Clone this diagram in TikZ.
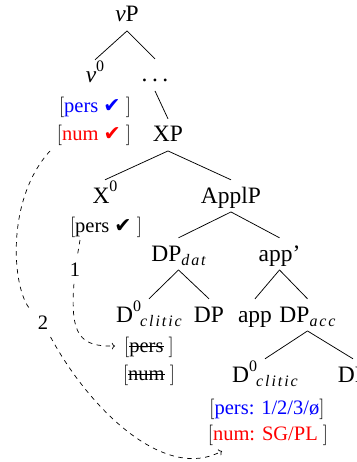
\documentclass[tikz,border=0pt]{standalone}
\usepackage{fontspec}
\setmainfont{Liberation Serif}
\newfontfamily\symf{DejaVu Sans}
\newfontfamily\brkf{Latin Modern Roman}
\usepackage{xcolor}
\usetikzlibrary{arrows.meta}
\newcommand\tfs{\fontsize{23.5}{27}\selectfont}
\newcommand\ffs{\fontsize{20.5}{24}\selectfont}
\newcommand\supx[1]{\raisebox{11pt}{\fontsize{16}{18}\selectfont #1}}
\newcommand\subx[1]{\raisebox{-4.5pt}{\fontsize{16}{18}\selectfont\itshape\addfontfeature{LetterSpace=12}#1}}
\newcommand\lbr{{\brkf[}}
\newcommand\rbr{{\brkf]}}
\newcommand\chk{{\symf ✔}}
\newsavebox\strbox
\newcommand\strk[1]{\sbox\strbox{#1}\rlap{\rule[0.24em]{\wd\strbox}{0.7pt}}\usebox\strbox}
\definecolor{fblue}{RGB}{0,0,255}
\definecolor{fred}{RGB}{255,0,0}
\begin{document}
\begin{tikzpicture}[x=1pt,y=-1pt,
 tn/.style={font=\tfs, anchor=base, inner sep=3pt, text height=20pt, text depth=5.75pt},
 ft/.style={font=\ffs, anchor=base, inner sep=1pt},
 br/.style={line width=0.75pt},
 mv/.style={dash pattern=on 4.5pt off 4.5pt, line width=0.7pt},
 lab/.style={font=\ffs, inner sep=7pt}]
\useasboundingbox (0,0) rectangle (356,462);
\clip (0,0) rectangle (356,462);
% tree nodes
\node[tn] (vP) at (127,22) {\textit{v}P};
\node[tn] (v0) at (95,83) {\textit{v}\supx{0}};
\node[tn] (dots) at (155,82) {.\hspace{4.5pt}.\hspace{4.5pt}.};
\node[tn] (XP) at (168,142) {XP};
\node[tn] (X0) at (105,203) {X\supx{0}};
\node[tn] (ApplP) at (231,203) {ApplP};
\node[tn] (DPdat) at (178.5,261) {DP\subx{dat}};
\node[tn] (appb) at (279.5,261) {app'};
\node[tn] (D0a) at (149,322) {D\supx{0}\kern-1pt\subx{clitic}};
\node[tn] (DPm) at (209,322) {DP};
\node[tn] (app) at (255,322) {app};
\node[tn] (DPacc) at (307.5,322) {DP\subx{acc}};
\node[tn] (D0b) at (265,382) {D\supx{0}\kern-1pt\subx{clitic}};
\node[tn] (DPr) at (353,382) {DP};
% features
\node[ft] (fv1) at (95,113) {\lbr{\color{fblue}pers \chk}\ \rbr};
\node[ft] (fv2) at (94,141) {\lbr{\color{fred}num \chk}\ \rbr};
\node[ft] (fx) at (106,232) {\lbr pers \chk\ \rbr};
\node[ft] (fs1) at (149,352) {\lbr\strk{pers}\ \rbr};
\node[ft] (fs2) at (149,380) {\lbr\strk{num}\ \rbr};
\node[ft] (fr1) at (267,414) {\lbr{\color{fblue}pers: 1/2/3/ø}\rbr};
\node[ft] (fr2) at (268,440) {\lbr{\color{fred}num: SG/PL}\ \rbr};
% branches
\draw[br] (vP.south) -- (v0.north);
\draw[br] (vP.south) -- (dots.north);
\draw[br] (dots.south) -- (XP.north);
\draw[br] (XP.south) -- (X0.north);
\draw[br] (XP.south) -- (ApplP.north);
\draw[br] (ApplP.south) -- (DPdat.north);
\draw[br] (ApplP.south) -- (appb.north);
\draw[br] (DPdat.south) -- (D0a.north);
\draw[br] (DPdat.south) -- (DPm.north);
\draw[br] (appb.south) -- (app.north);
\draw[br] (appb.south) -- (DPacc.north);
\draw[br] (DPacc.south) -- (D0b.north);
\draw[br] (DPacc.south) -- (DPr.north);
% movement arrows
\coordinate (c1) at (80,240);
\coordinate (a1) at (115,346);
\node[lab] (l1) at (75,270) {1};
\draw[mv] (c1) -- (l1);
\draw[mv,->] (l1) .. controls (70,335) and (80,347) .. (a1);
\coordinate (c2) at (50,151);
\coordinate (a2) at (222,451);
\node[lab] (l2) at (43,323) {2};
\draw[mv] (c2) .. controls (5,200) and (12,290) .. (l2);
\draw[mv,->] (l2) .. controls (90,410) and (165,482) .. (a2);
\end{tikzpicture}
\end{document}
